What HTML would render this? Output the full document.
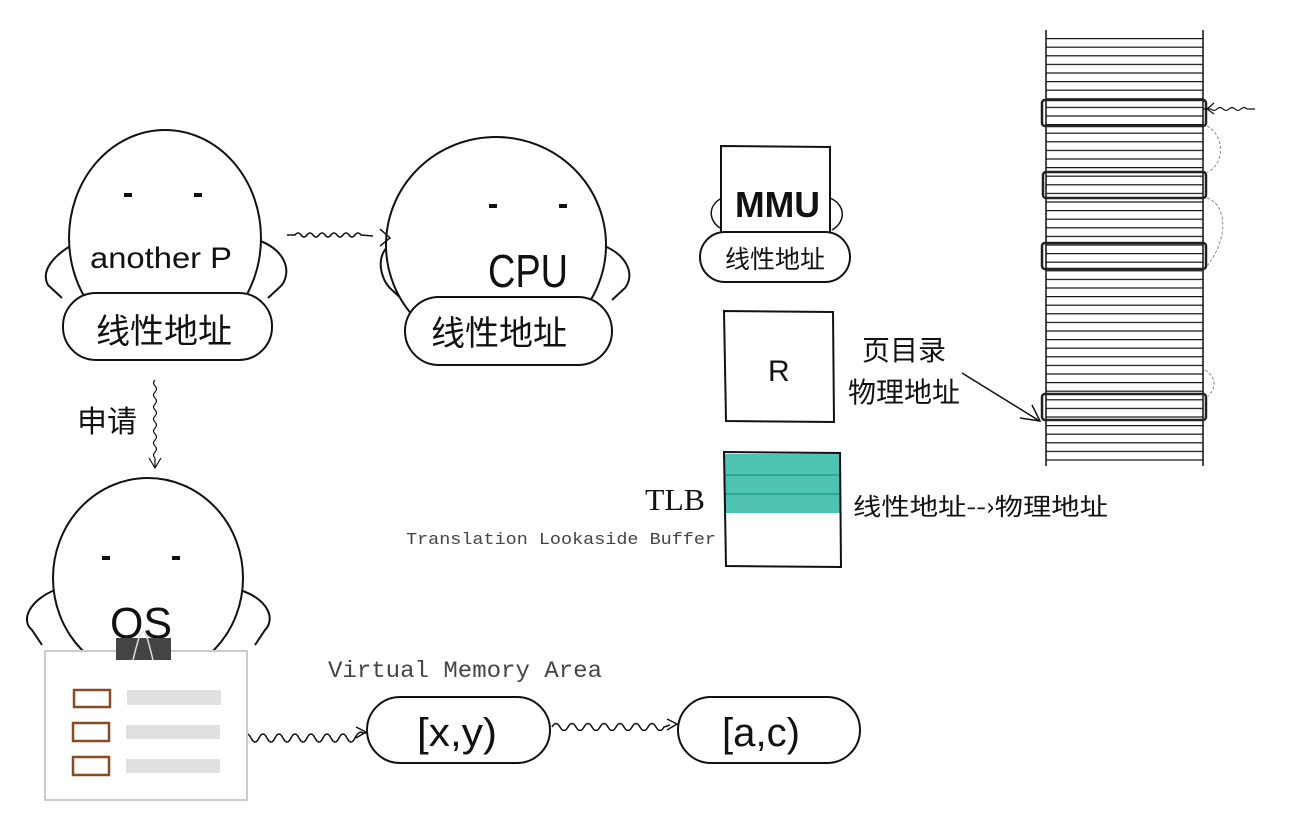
<!DOCTYPE html>
<html><head><meta charset="utf-8"><style>
html,body{margin:0;padding:0;background:#fff;}
svg{display:block;}
text{font-family:"Liberation Sans","Noto Sans CJK SC",sans-serif;fill:#111;}
.cjk{font-family:"Noto Sans CJK SC","WenQuanYi Zen Hei",sans-serif;}
.mono{font-family:"Liberation Mono","DejaVu Sans Mono",monospace;fill:#444;}
.serif{font-family:"Liberation Serif",serif;}
</style></head><body>
<svg width="1308" height="824" viewBox="0 0 1308 824" xmlns="http://www.w3.org/2000/svg">
<defs>
<pattern id="hl" x="0" y="38" width="20" height="8.6" patternUnits="userSpaceOnUse">
<line x1="0" y1="0.6" x2="20" y2="0.6" stroke="#111" stroke-width="1.2"/>
</pattern>
</defs>
<g fill="none" stroke="#111" stroke-width="2">
<path d="M72,245 C55,255 40,270 48,285 L62,298 M258,240 C285,250 292,270 282,285 L268,298"/>
<ellipse cx="165" cy="238" rx="96" ry="108" fill="#fff"/>
<rect x="63" y="293" width="209" height="67" rx="33" fill="#fff"/>
<path d="M390,245 C375,255 380,280 392,290 L405,302 M602,245 C628,255 635,275 625,288 L612,300"/>
<ellipse cx="496" cy="245" rx="110" ry="108" fill="#fff"/>
<rect x="405" y="297" width="207" height="68" rx="34" fill="#fff"/>
<path d="M55,590 C30,600 20,620 32,630 L42,645 M240,590 C270,600 275,620 265,630 L255,645"/>
<ellipse cx="148" cy="578" rx="95" ry="100" fill="#fff"/>
<path d="M287,235 l8,0 q3,-4 6,0 t6,0 t6,0 t6,0 t6,0 t6,0 t6,0 t6,0 t6,0 t6,0 t6,0 l12,1 M380,229 l10,9 l-10,8" stroke-width="1.5"/>
<path d="M155,380 q-3,3 0,6 t0,6 t0,6 t0,6 t0,6 t0,6 t0,6 t0,6 t0,6 t0,6 t0,6 t0,6 t0,6 l0,10 M149,458 l6,10 l6,-10" stroke-width="1.2"/>
<path d="M243,738 q4,-8 8,0 t8,0 t8,0 t8,0 t8,0 t8,0 t8,0 t8,0 t8,0 t8,0 t8,0 t8,0 t8,0 t8,0 t8,-5 l4,0 M356,727 l10,5 l-10,6" stroke-width="1.5"/>
<path d="M552,727 q4,-7 8,0 t8,0 t8,0 t8,0 t8,0 t8,0 t8,0 t8,0 t8,0 t8,0 t8,0 t8,0 t8,0 t8,0 l6,-2 M667,719 l10,5 l-10,6" stroke-width="1.5"/>
<rect x="367" y="697" width="183" height="66" rx="33" fill="#fff"/>
<rect x="678" y="697" width="182" height="66" rx="33" fill="#fff"/>
<path d="M722,198 C708,205 708,220 720,228 M830,198 C846,205 846,222 832,230" stroke-width="1.5"/>
<path d="M721,146 L830,147 L830,233 L721,233 Z" fill="#fff"/>
<rect x="700" y="232" width="150" height="50" rx="25" fill="#fff"/>
<path d="M724,311 L833,312 L834,422 L726,421 Z"/>
<path d="M962,373 L1038,420 M1020,418 L1040,421 L1032,405" stroke-width="1.5"/>
</g>
<rect x="725" y="454" width="115" height="59" fill="#4fc3b3"/>
<g stroke="#2aa894" stroke-width="2"><line x1="725" y1="475" x2="840" y2="475"/><line x1="725" y1="494" x2="840" y2="494"/></g>
<path d="M724,452 L840,453 L841,567 L726,566 Z" fill="none" stroke="#111" stroke-width="2"/>
<rect x="45" y="651" width="202" height="149" fill="#fff" stroke="#ccc" stroke-width="2"/>
<g fill="none" stroke="#8a4a22" stroke-width="2.5">
<rect x="74" y="690" width="36" height="17"/><rect x="73" y="723" width="36" height="18"/><rect x="73" y="757" width="36" height="18"/>
</g>
<g fill="#e0e0e0"><rect x="127" y="690" width="94" height="15"/><rect x="126" y="725" width="94" height="14"/><rect x="126" y="759" width="94" height="14"/></g>
<g fill="#111">
<rect x="124" y="193" width="8" height="4"/><rect x="194" y="193" width="8" height="4"/>
<rect x="489" y="204" width="8" height="4"/><rect x="559" y="204" width="8" height="4"/>
<rect x="102" y="556" width="8" height="4"/><rect x="172" y="556" width="8" height="4"/>
</g>
<rect x="1046" y="38" width="157" height="424" fill="url(#hl)"/>
<g stroke="#111" stroke-width="1.5"><line x1="1046" y1="30" x2="1046" y2="466"/><line x1="1203" y1="30" x2="1203" y2="466"/></g>
<g fill="none" stroke="#222" stroke-width="2.5">
<rect x="1042" y="100" width="164" height="26" rx="3"/><rect x="1043" y="172" width="163" height="26" rx="3"/>
<rect x="1042" y="243" width="164" height="26" rx="3"/><rect x="1042" y="394" width="164" height="26" rx="3"/>
</g>
<g fill="none" stroke="#888" stroke-width="1" stroke-dasharray="3,2">
<path d="M1207,126 C1225,135 1225,165 1207,172"/><path d="M1207,198 C1228,205 1228,240 1207,266"/><path d="M1205,370 C1218,378 1215,390 1208,396"/>
</g>
<path d="M1255,109 l-8,0 q-3,-3 -6,0 t-6,0 t-6,0 t-6,0 t-6,0 t-6,0 l-8,0 M1214,103 l-7,6 l7,5" fill="none" stroke="#111" stroke-width="1.2"/>
<text x="90" y="268" font-size="30" textLength="142" lengthAdjust="spacingAndGlyphs">another P</text>
<text x="96" y="343" font-size="34" class="cjk">线性地址</text>
<text x="488" y="287" font-size="46" textLength="80" lengthAdjust="spacingAndGlyphs">CPU</text>
<text x="431" y="345" font-size="34" class="cjk">线性地址</text>
<text x="77" y="432" font-size="30" class="cjk">申请</text>
<text x="110" y="638" font-size="44" textLength="62" lengthAdjust="spacingAndGlyphs">OS</text>
<rect x="116" y="638" width="55" height="22" fill="#444"/>
<path d="M133,660 C138,640 140,632 143,632 C146,632 148,640 153,660" fill="none" stroke="#ddd" stroke-width="1.5"/>
<text x="328" y="677" font-size="23" class="mono" textLength="274" lengthAdjust="spacingAndGlyphs">Virtual Memory Area</text>
<text x="417" y="746" font-size="40" textLength="80" lengthAdjust="spacingAndGlyphs">[x,y)</text>
<text x="722" y="746" font-size="40" textLength="78" lengthAdjust="spacingAndGlyphs">[a,c)</text>
<text x="735" y="217" font-size="36" font-weight="bold" textLength="85" lengthAdjust="spacingAndGlyphs">MMU</text>
<text x="725" y="268" font-size="25" class="cjk">线性地址</text>
<text x="768" y="381" font-size="30">R</text>
<text x="862" y="360" font-size="28" class="cjk">页目录</text>
<text x="848" y="402" font-size="28" class="cjk">物理地址</text>
<text x="645" y="510" font-size="31" class="serif" textLength="60" lengthAdjust="spacingAndGlyphs">TLB</text>
<text x="406" y="544" font-size="17" class="mono" textLength="310" lengthAdjust="spacingAndGlyphs">Translation Lookaside Buffer</text>
<text x="853" y="515" font-size="24" class="cjk" textLength="255" lengthAdjust="spacingAndGlyphs">线性地址--›物理地址</text>
</svg>
</body></html>
